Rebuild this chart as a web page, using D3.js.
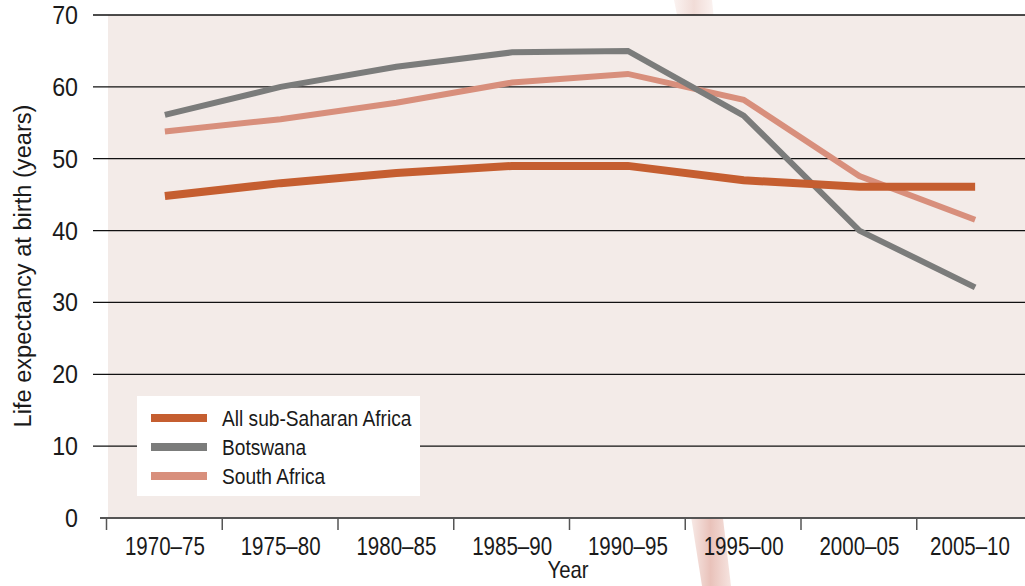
<!DOCTYPE html>
<html><head><meta charset="utf-8">
<script src="https://cdn.jsdelivr.net/npm/d3@7"></script>
<style>
html,body{margin:0;padding:0;background:#fff;}
svg text{font-family:"Liberation Sans",Arial,sans-serif;fill:#1a1a1a;}
</style></head>
<body><svg id="c" width="1025" height="586"></svg>
<script>
const categories = ["1970–75","1975–80","1980–85","1985–90","1990–95","1995–00","2000–05","2005–10"];
const subSaharan = [44.8, 46.6, 48.0, 49.0, 49.0, 47.0, 46.1, 46.1];
const botswana   = [56.1, 60.0, 62.8, 64.8, 65.0, 56.0, 40.0, 32.1];
const southAfrica= [53.8, 55.5, 57.8, 60.6, 61.8, 58.2, 47.6, 41.5];
const yTicks = [0,10,20,30,40,50,60,70];
const seriesNames = ["All sub-Saharan Africa","Botswana","South Africa"];
const seriesColors = ["#c55e30","#7b7c7b","#d88f7c"];
const seriesWidths = [8,6,6];

const svg = d3.select("#c");
const mLeft = 107, mRight = 1033, mTop = 15, mBottom = 518;

function condense(sel, f){
  sel.each(function(){
    const n = this.getComputedTextLength();
    d3.select(this).attr("textLength", n*f).attr("lengthAdjust","spacingAndGlyphs");
  });
}

// decorative streak
const defs = svg.append("defs");
const g1 = defs.append("linearGradient").attr("id","st").attr("x1","0").attr("x2","1");
g1.append("stop").attr("offset","0").attr("stop-color","#f8ebe8");
g1.append("stop").attr("offset","0.5").attr("stop-color","#e9c2ba");
g1.append("stop").attr("offset","1").attr("stop-color","#f6e4e0");
const g2 = defs.append("linearGradient").attr("id","st2").attr("x1","0").attr("x2","1");
g2.append("stop").attr("offset","0").attr("stop-color","#fbf3f1");
g2.append("stop").attr("offset","0.5").attr("stop-color","#f1dcd7");
g2.append("stop").attr("offset","1").attr("stop-color","#fbf3f1");
svg.append("path").attr("d","M674,0 L712,0 L714,20 L678,20 Z").attr("fill","url(#st2)");
svg.append("path").attr("d","M690,510 L722,510 L731,586 L702,586 Z").attr("fill","url(#st)");

const x = d3.scaleBand().domain(categories).range([mLeft, mRight]);
const y = d3.scaleLinear().domain([0,70]).range([mBottom, mTop]);

svg.append("rect").attr("x",108).attr("y",mTop).attr("width",1025-108).attr("height",mBottom-mTop).attr("fill","#f3ebe8");

// grid
svg.append("g").selectAll("line").data(yTicks.filter(d=>d>0)).join("line")
  .attr("x1",93).attr("x2",1025).attr("y1",d=>y(d)).attr("y2",d=>y(d))
  .attr("stroke","#111").attr("stroke-width",1.3);
svg.append("g").selectAll("text").data(yTicks).join("text")
  .attr("x",78).attr("y",d=>y(d)).attr("dy","0.36em").attr("text-anchor","end")
  .attr("font-size",25).text(d=>d).call(condense,0.93);

// x axis
svg.append("line").attr("x1",100).attr("x2",1025).attr("y1",mBottom).attr("y2",mBottom)
  .attr("stroke","#555").attr("stroke-width",2);
svg.append("g").selectAll("line").data(categories).join("line")
  .attr("x1",d=>x(d)-0.5).attr("x2",d=>x(d)-0.5).attr("y1",mBottom).attr("y2",530)
  .attr("stroke","#555").attr("stroke-width",1.5);
svg.append("g").selectAll("text").data(categories).join("text")
  .attr("x",d=>Math.min(x(d)+x.bandwidth()/2, 970)).attr("y",555).attr("text-anchor","middle")
  .attr("font-size",25).text(d=>d).call(condense,0.82);

svg.append("text").attr("x",568).attr("y",578).attr("text-anchor","middle").attr("font-size",24)
  .text("Year").attr("textLength",41).attr("lengthAdjust","spacingAndGlyphs");
svg.append("text").attr("transform","translate(31,266) rotate(-90)").attr("text-anchor","middle")
  .attr("font-size",23).text("Life expectancy at birth (years)")
  .attr("textLength",323).attr("lengthAdjust","spacingAndGlyphs");

// lines
const line = d3.line().x((d,i)=>x(categories[i])+x.bandwidth()/2).y(d=>y(d));
const series = [subSaharan, botswana, southAfrica];
[2,1,0].forEach(k=>{
  svg.append("path").datum(series[k]).attr("d",line).attr("fill","none")
    .attr("stroke",seriesColors[k]).attr("stroke-width",seriesWidths[k]).attr("stroke-linejoin","miter");
});

// legend
svg.append("rect").attr("x",137).attr("y",396).attr("width",283).attr("height",100).attr("fill","#fff");
const lg = svg.append("g").selectAll("g").data(seriesNames).join("g")
  .attr("transform",(d,i)=>`translate(151,${418+i*29})`);
lg.append("line").attr("x1",0).attr("x2",56).attr("y1",0).attr("y2",0)
  .attr("stroke",(d,i)=>seriesColors[i]).attr("stroke-width",8);
lg.append("text").attr("x",71).attr("y",0).attr("dy","0.36em").attr("font-size",22).text(d=>d).call(condense,0.87);
</script></body></html>
